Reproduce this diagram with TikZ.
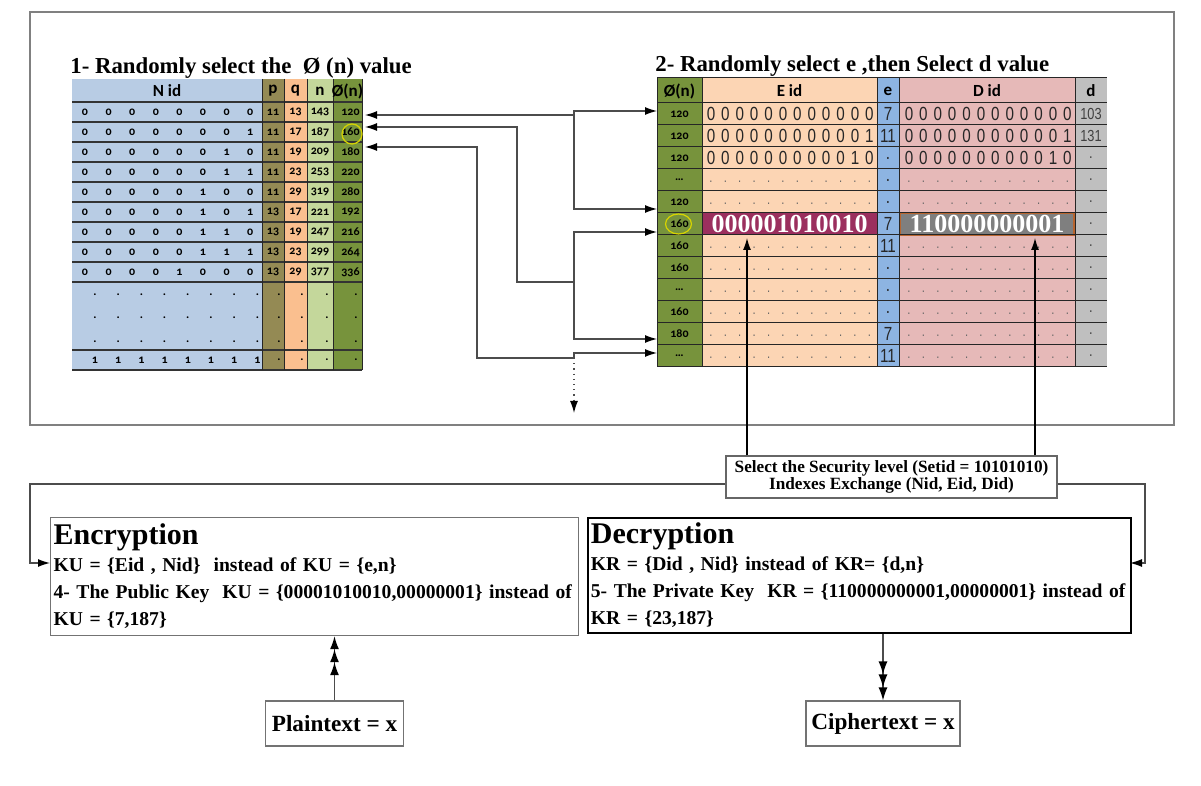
\documentclass[tikz,border=0pt]{standalone}
\usepackage{fontspec}
\setmainfont{Liberation Serif}
\newfontfamily\cellfont[Numbers=OldStyle]{Carlito}
\newfontfamily\bitfont[FakeStretch=0.8]{Liberation Sans}
\usetikzlibrary{arrows.meta, positioning, calc}

\definecolor{nidcol}{HTML}{B8CCE4}
\definecolor{pcol}{HTML}{948A54}
\definecolor{qcol}{HTML}{FABF8F}
\definecolor{ncol}{HTML}{C4D79B}
\definecolor{phicol}{HTML}{77933C}
\definecolor{eidcol}{HTML}{FCD5B4}
\definecolor{ecol}{HTML}{8DB4E2}
\definecolor{didcol}{HTML}{E6B9B8}
\definecolor{dcol}{HTML}{BFBFBF}
\definecolor{eidsel}{HTML}{9B2F5E}
\definecolor{didsel}{HTML}{7F7F7F}
\definecolor{didrim}{HTML}{B8652F}
\definecolor{ringcol}{HTML}{D8D400}

\tikzset{
  cell/.style={inner sep=0pt, font=\cellfont\bfseries\fontsize{6}{6}\selectfont},
  colhead/.style={inner sep=0pt, font=\cellfont\bfseries\fontsize{8.5}{9}\selectfont},
  bit/.style={inner sep=0pt, font=\bitfont\fontsize{9.5}{10}\selectfont, text=black!85},
  pad/.style={inner sep=0pt, font=\bitfont\fontsize{7}{7}\selectfont, text=black!60},
  rowline/.style={black!80, line width=0.9pt},
  gridline/.style={black!85, line width=0.5pt},
  link/.style={black!70, line width=0.6pt},
  arr/.style={link, -{Latex[length=6pt,width=4pt,color=black]}},
  tri/.style={link, -{Latex[length=6.5pt,width=4.5pt,color=black]Latex[length=6.5pt,width=4.5pt,color=black]Latex[length=6.5pt,width=4.5pt,color=black]}},
  title/.style={inner sep=0pt, anchor=base west, font=\bfseries\fontsize{11.4}{13}\selectfont},
  keybox/.style={line width=0.6pt, anchor=north west, align=left, inner xsep=1.5pt, inner ysep=2pt, font=\bfseries\fontsize{9.8}{13.5}\selectfont},
  selcell/.style={inner sep=0pt, text=white, font=\bfseries\fontsize{13}{13}\selectfont},
  ring/.style={draw=ringcol, line width=0.6pt},
  txtbox/.style={draw=black!55, line width=0.6pt, inner sep=2pt, font=\bfseries\fontsize{11.6}{12}\selectfont}
}

\begin{document}
\begin{tikzpicture}[x=0.5pt, y=-0.5pt]
  \useasboundingbox (0,0) rectangle (1201,786);

  % Outer frame
  \draw[black!50, line width=1pt] (30,12) rectangle (1174,425);

  % Titles
  \node[title] (title1) at (70,74) {1- Randomly select the \ Ø (n) value};
  \node[title] (title2) at (655,72) {2- Randomly select e ,then Select d value};

  % Table 1: N id, p, q, n, phi(n)
  \fill[nidcol] (72,79) rectangle (262,370);
  \fill[pcol] (262,79) rectangle (284,370);
  \fill[qcol] (284,79) rectangle (307,370);
  \fill[ncol] (307,79) rectangle (333,370);
  \fill[phicol] (333,79) rectangle (362,370);
  \foreach \y in {102,122,...,282} \draw[rowline] (72,\y) -- (362,\y);
  \draw[rowline] (72,350) -- (362,350);
  \draw[rowline] (72,370) -- (362,370);
  \foreach \x in {262,284,307,333,362} \draw[gridline] (\x,79) -- (\x,370);
  \node[colhead] (hnid) at (167,91) {N id};
  \node[colhead] (hp) at (273,91) {p};
  \node[colhead] (hq) at (295.5,91) {q};
  \node[colhead] (hn) at (320,91) {n};
  \node[colhead] (hphi) at (347.5,91) {Ø(n)};
  \foreach \pv/\qv/\nv/\fv [count=\row] in {11/13/143/120, 11/17/187/160, 11/19/209/180,
      11/23/253/220, 11/29/319/280, 13/17/221/192, 13/19/247/216, 13/23/299/264, 13/29/377/336} {
    \pgfmathtruncatemacro{\idv}{\row-1}
    \foreach \col in {1,...,8} {
      \pgfmathtruncatemacro{\bitv}{mod(floor(\idv/2^(8-\col)),2)}
      \node[cell] (nid-\row-\col) at ({85+23.6*(\col-1)},{92+20*\row}) {\bitv};
    }
    \node[cell] (p-\row) at (273,{92+20*\row}) {\pv};
    \node[cell] (q-\row) at (295.5,{92+20*\row}) {\qv};
    \node[cell] (n-\row) at (320,{92+20*\row}) {\nv};
    \node[cell, anchor=east] (phi-\row) at (360,{92+20*\row}) {\fv};
  }
  % dotted rows and last row
  \foreach \y/\mark [count=\k] in {295/., 318/., 342/., 360/1} {
    \foreach \col in {1,...,8} \node[cell] (nidx-\k-\col) at ({95+23.2*(\col-1)},\y) {\mark};
    \node[cell] (px-\k) at (279,\y) {.};
    \node[cell] (qx-\k) at (302,\y) {.};
    \node[cell] (nx-\k) at (327,\y) {.};
    \node[cell] (phix-\k) at (356,\y) {.};
  }
  \draw[ring] (352,134) ellipse [x radius=10, y radius=10];

  % Table 2: phi(n), E id, e, D id, d
  \fill[phicol] (657,78) rectangle (702,367);
  \fill[eidcol] (702,78) rectangle (877,367);
  \fill[ecol] (877,78) rectangle (899,367);
  \fill[didcol] (899,78) rectangle (1075,367);
  \fill[dcol] (1075,78) rectangle (1107,367);
  \node[selcell, fill=eidsel, minimum width=87.5pt, minimum height=11pt] (eidpick) at (789.5,224) {000001010010};
  \node[selcell, fill=didsel, draw=didrim, line width=0.6pt, minimum width=87pt, minimum height=11pt] (didpick) at (987,224) {110000000001};
  \foreach \y in {78,103,125,...,367} \draw[gridline] (657,\y) -- (1107,\y);
  \foreach \x in {657,702,877,899,1075} \draw[gridline] (\x,78) -- (\x,367);
  \node[colhead] (hphi2) at (679.5,91) {Ø(n)};
  \node[colhead] (heid) at (789.5,91) {E id};
  \node[colhead] (he) at (888,91) {e};
  \node[colhead] (hdid) at (987,91) {D id};
  \node[colhead] (hd) at (1091,91) {d};
  \foreach \fv/\ev/\dv [count=\row] in {120/7/103, 120/11/131, 120/./., \dots/./., 120/./.,
      160/7/., 160/11/., 160/./., \dots/./., 160/./., 180/7/., \dots/11/.} {
    \node[cell] (phi2-\row) at (679.5,{92+22*\row}) {\fv};
    \node[bit] (e-\row) at (888,{92+22*\row}) {\ev};
    \node[pad, text=black!75, font=\bitfont\fontsize{8}{8}\selectfont] (d-\row) at (1091,{92+22*\row}) {\dv};
  }
  % bit strings in E id and D id
  \foreach \row in {1,2,3} {
    \pgfmathtruncatemacro{\idv}{\row-1}
    \foreach \col in {1,...,12} {
      \pgfmathtruncatemacro{\bitv}{mod(floor(\idv/2^(12-\col)),2)}
      \node[bit] (eid-\row-\col) at ({711+14.4*(\col-1)},{92+22*\row}) {\bitv};
      \node[bit] (did-\row-\col) at ({909+14.4*(\col-1)},{92+22*\row}) {\bitv};
    }
  }
  \foreach \row in {4,5,7,8,9,10,11,12} {
    \foreach \col in {1,...,12} {
      \node[pad] (eidx-\row-\col) at ({711+14.4*(\col-1)},{94+22*\row}) {.};
      \node[pad] (didx-\row-\col) at ({909+14.4*(\col-1)},{94+22*\row}) {.};
    }
  }
  \draw[ring] (678.5,224) ellipse [x radius=13, y radius=10];

  % Links between the tables
  \coordinate (a1) at (365,115);
  \coordinate (a2) at (365,127);
  \coordinate (a3) at (365,147);
  \coordinate (c2) at (517,127);
  \coordinate (c3) at (477,147);
  \coordinate (j1) at (574,115);
  \coordinate (j2) at (574,282);
  \coordinate (j3) at (574,358);
  \coordinate (b1) at (657,111);
  \coordinate (b5) at (657,209);
  \coordinate (b6) at (657,232);
  \coordinate (b11) at (657,339);
  \coordinate (b12) at (657,353);
  \coordinate (drop) at (574,413);
  \draw[arr] (j1) -- (a1);
  \draw[arr] (j1) |- (b1);
  \draw[arr] (j1) |- (b5);
  \draw[arr] (j2) -| (c2) -- (a2);
  \draw[arr] (j2) |- (b6);
  \draw[arr] (j2) |- (b11);
  \draw[arr] (j3) -| (c3) -- (a3);
  \draw[arr] (j3) |- (b12);
  \draw[arr, dotted] (j3) -- (drop);

  % Security level and index exchange
  \node[draw=black!60, line width=0.6pt, align=center, inner sep=1pt,
    font=\bfseries\fontsize{8.6}{8.8}\selectfont, minimum width=165.5pt, minimum height=21pt]
    (sec) at (891.5,477) {Select the Security level (Setid = 10101010)\\Indexes Exchange (Nid, Eid, Did)};
  \coordinate (up1) at (747,238);
  \coordinate (up2) at (1035,238);
  \draw[arr, black] (sec.north -| up1) -- (up1);
  \draw[arr, black] (sec.north -| up2) -- (up2);

  % Key boxes
  \node[keybox, draw=black!55, text width=261pt, minimum height=59pt] (enc) at (50,517)
    {{\fontsize{15}{15}\selectfont Encryption}\\
     KU = \{Eid , Nid\} \ instead of KU = \{e,n\}\\
     4- The Public Key \ KU = \{00001010010,00000001\} instead of\\
     KU = \{7,187\}};
  \node[keybox, draw=black, line width=0.9pt, text width=268.5pt, minimum height=57.5pt] (dec) at (587,517)
    {{\fontsize{15}{15}\selectfont Decryption}\\
     KR = \{Did , Nid\} instead of KR= \{d,n\}\\
     5- The Private Key \ KR = \{110000000001,00000001\} instead of\\
     KR = \{23,187\}};
  \coordinate (lturn) at (30,484);
  \coordinate (rturn) at (1145,484);
  \coordinate (encin) at (50,563);
  \coordinate (decin) at (1130,563);
  \draw[arr] (sec.west |- lturn) -- (lturn) |- (encin);
  \draw[arr] (sec.east |- rturn) -- (rturn) |- (decin);

  % Plaintext and ciphertext
  \node[txtbox, minimum width=69pt, minimum height=22.5pt] (plain) at (334.5,723.5) {Plaintext = x};
  \node[txtbox, minimum width=77pt, minimum height=22.5pt] (cipher) at (883,723.5) {Ciphertext = x};
  \draw[tri] (plain.north) -- (plain.north |- enc.south);
  \draw[tri] (cipher.north |- dec.south) -- (cipher.north);
\end{tikzpicture}
\end{document}
